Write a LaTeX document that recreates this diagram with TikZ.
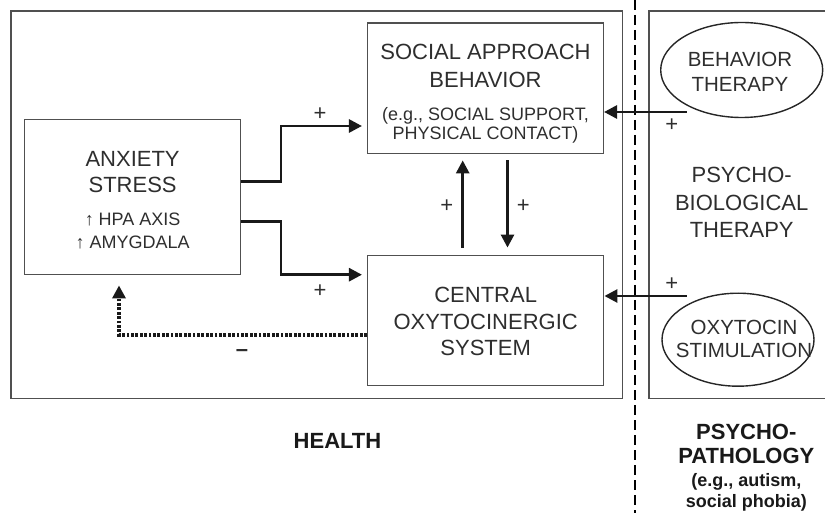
\documentclass[tikz,border=0pt]{standalone}
\usepackage{fontspec}
\setmainfont{Liberation Sans}
\usetikzlibrary{positioning,arrows.meta,shapes.geometric}

\definecolor{txtgray}{HTML}{2E2E2E}
\definecolor{linegray}{HTML}{505050}
\newcommand{\subtext}{\fontsize{18}{21}\selectfont}

\begin{document}
\begin{tikzpicture}[x=1pt, y=-1pt,
    panel/.style={draw=linegray, line width=1.5pt},
    box/.style={draw=linegray, line width=1.5pt, inner sep=0pt},
    oval/.style={ellipse, draw=black!85, line width=1.4pt, inner sep=0pt},
    big/.style={text=txtgray, align=center, anchor=north, inner sep=0pt, font=\fontsize{22}{26.5}\selectfont},
    ovaltext/.style={big, font=\fontsize{20.5}{24.5}\selectfont},
    heading/.style={big, text=black!90, font=\fontsize{22}{26.5}\selectfont\bfseries},
    sign/.style={text=txtgray, inner sep=0pt, font=\fontsize{22}{26}\selectfont},
    arrow/.style={-{Triangle[length=13pt,width=13pt]}, line width=2.8pt, black!90},
    feedback/.style={arrow, line width=3.4pt, dash pattern=on 2.8pt off 1.6pt}
]
\useasboundingbox (0,0) rectangle (825,513);

% Panels and divider
\draw[panel] (11,11) rectangle (622.5,398.5);
\draw[panel] (830,11) -| (649,398.5) -- (830,398.5);
\draw[line width=2.8pt, dash pattern=on 10pt off 5pt] (635,0) -- (635,513);

% Anxiety / stress
\node[box, minimum width=216pt, minimum height=155pt] (anx) at (132.6,197.2) {};
\node[big] (anxtxt) at (132.6,151) {ANXIETY\\STRESS\\[6.5pt]{\subtext ↑ HPA AXIS}\\[-3.5pt]{\subtext ↑ AMYGDALA}};

% Social approach behavior
\node[box, minimum width=235.6pt, minimum height=130.7pt] (social) at (485.5,88.3) {};
\node[big] (socialtxt) at (485.5,44) {SOCIAL APPROACH\\[1.8pt]BEHAVIOR\\[5.7pt]{\subtext (e.g., SOCIAL SUPPORT,}\\[-6.9pt]{\subtext PHYSICAL CONTACT)}};

% Central oxytocinergic system
\node[box, minimum width=236pt, minimum height=130.4pt] (central) at (485.7,320.5) {};
\node[big] (centraltxt) at (485.7,287.1) {CENTRAL\\OXYTOCINERGIC\\SYSTEM};

% Therapies
\node[oval, minimum width=162pt, minimum height=95pt] (behav) at (741.7,70) {};
\node[ovaltext] (behavtxt) at (740,51.8) {BEHAVIOR\\[0.5pt]THERAPY};
\node[oval, minimum width=152pt, minimum height=93pt] (oxy) at (738,339.7) {};
\node[ovaltext] (oxytxt) at (744,320.3) {OXYTOCIN\\[-1.5pt]STIMULATION};
\node[big] (therapy) at (741.7,167.4) {PSYCHO-\\[1pt]BIOLOGICAL\\[1pt]THERAPY};

% Bottom headings
\node[heading] (health) at (337.5,433.6) {HEALTH};
\node[heading] (patho) at (746.3,424.1) {PSYCHO-\\[-2.5pt]PATHOLOGY\\[-4pt]{\subtext\bfseries (e.g., autism,}\\[-5.5pt]{\subtext\bfseries social phobia)}};

% Connectors
\coordinate (bend1) at (281,126);
\coordinate (bend2) at (281,274.7);
\coordinate (btail) at (686.7,112);
\coordinate (otail) at (686.7,296);

\draw[arrow, shorten >=5pt] ([yshift=16pt]anx.east) -| (bend1) -- (bend1 -| social.west);
\draw[arrow, shorten >=5pt] ([yshift=-24pt]anx.east) -| (bend2) -- (bend2 -| central.west);
\draw[arrow, shorten <=7pt, shorten >=6pt] ([xshift=-23pt]central.north) -- ([xshift=-23pt]central.north |- social.south);
\draw[arrow, shorten <=6pt, shorten >=7pt] ([xshift=22pt]social.south) -- ([xshift=22pt]social.south |- central.north);
\draw[arrow] (btail) -- (btail -| social.east);
\draw[arrow] (otail) -- (otail -| central.east);
\draw[feedback, shorten >=10pt] ([yshift=-14.5pt]central.west) -| ([xshift=-13.6pt]anx.south);

% Signs
\node[sign] (p1) at (320,114) {+};
\node[sign] (p2) at (320,291) {+};
\node[sign] (p3) at (446.7,205.7) {+};
\node[sign] (p4) at (523.3,205.7) {+};
\node[sign] (p5) at (671.7,125) {+};
\node[sign] (p6) at (671.7,284) {+};
\node[sign, font=\fontsize{22}{26}\selectfont\bfseries] (m1) at (242,353) {--};

\end{tikzpicture}
\end{document}
